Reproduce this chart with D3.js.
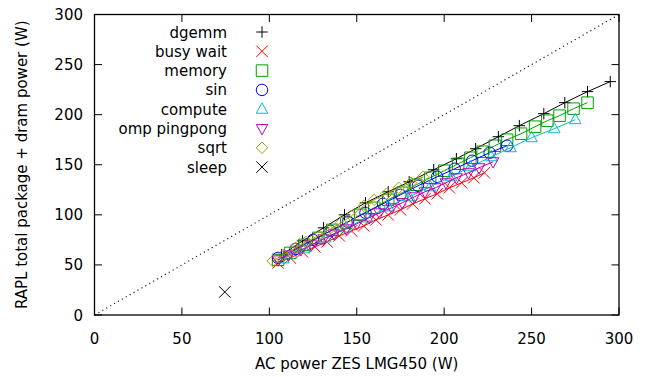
<!DOCTYPE html>
<html>
<head>
<meta charset="utf-8">
<script src="https://cdn.jsdelivr.net/npm/d3@7"></script>
<style>
  body { margin: 0; background: #fff; }
  text { font-family: "DejaVu Sans", sans-serif; }
</style>
</head>
<body>
<div id="chart"></div>
<script>
const xTicks = [0, 50, 100, 150, 200, 250, 300];
const yTicks = [0, 50, 100, 150, 200, 250, 300];

const seriesNames = ["dgemm", "busy wait", "memory", "sin", "compute", "omp pingpong", "sqrt", "sleep"];
const seriesColors = ["#000000", "#ff0000", "#00a000", "#0000ff", "#00c0c0", "#c000c0", "#a0a000", "#000000"];
const seriesShapes = ["plus", "cross", "square", "circle", "triangle", "invtriangle", "diamond", "cross"];

const dgemmX = [107, 119, 131, 143, 155, 168, 180, 194, 207, 218, 231, 243, 257, 269, 282, 295];
const dgemmY = [60, 74, 87, 100, 112, 123, 133, 145, 156, 166, 178, 189, 201, 212, 223, 233];

const busyWaitX = [105, 112, 119, 126, 133, 140, 147, 154, 161, 168, 175, 182, 189, 196, 203, 210, 217, 223];
const busyWaitY = [52, 57, 63, 68, 73, 79, 84, 89, 95, 100, 105, 111, 116, 121, 127, 132, 137, 142];

const memoryX = [105, 112, 120, 128, 136, 144, 152, 160, 168, 176, 184, 192, 200, 208, 215, 222, 229, 236, 244, 252, 259, 266, 274, 282];
const memoryY = [55, 62, 70, 77, 85, 92, 100, 107, 115, 122, 130, 137, 144, 151, 157, 163, 169, 175, 181, 188, 194, 199, 206, 212];

const sinX = [105, 115, 125, 135, 145, 155, 165, 175, 185, 196, 206, 216, 226, 236];
const sinY = [57, 66, 75, 84, 93, 102, 111, 120, 129, 138, 146, 154, 162, 169];

const computeX = [108, 120, 132, 144, 156, 168, 180, 192, 204, 215, 227, 238, 250, 263, 275];
const computeY = [56, 66, 77, 87, 97, 108, 118, 128, 138, 148, 158, 167, 177, 186, 195];

const pingpongX = [105, 111, 118, 124, 131, 137, 144, 150, 157, 163, 170, 176, 183, 189, 195, 201, 207, 214, 220, 228];
const pingpongY = [55, 60, 65, 70, 76, 81, 86, 91, 97, 102, 107, 112, 118, 123, 127, 132, 137, 142, 147, 153];

const sqrtX = [102, 108, 115, 121, 128, 134, 141, 147, 154, 160, 167, 174, 181, 188];
const sqrtY = [54, 60, 67, 73, 79, 85, 92, 99, 109, 115, 121, 127, 132, 138];

const sleepX = [74.5];
const sleepY = [23];

const seriesX = [dgemmX, busyWaitX, memoryX, sinX, computeX, pingpongX, sqrtX, sleepX];
const seriesY = [dgemmY, busyWaitY, memoryY, sinY, computeY, pingpongY, sqrtY, sleepY];

const width = 651, height = 377;
const plotL = 94.5, plotR = 619, plotT = 14.5, plotB = 315;

const svg = d3.select("#chart").append("svg")
    .attr("width", width)
    .attr("height", height);

const x = d3.scaleLinear().domain([0, 300]).range([plotL, plotR]);
const y = d3.scaleLinear().domain([0, 300]).range([plotB, plotT]);

// gnuplot style point shapes
function shape(type, s) {
    const h = s / 2;
    switch (type) {
        case "plus": return `M${-h},0H${h}M0,${-h}V${h}`;
        case "cross": return `M${-h},${-h}L${h},${h}M${-h},${h}L${h},${-h}`;
        case "square": return `M${-h},${-h}H${h}V${h}H${-h}Z`;
        case "circle": return `M${h},0A${h},${h} 0 1,1 ${-h},0A${h},${h} 0 1,1 ${h},0Z`;
        case "triangle": return `M0,${-h * 1.1}L${h},${h * 0.7}L${-h},${h * 0.7}Z`;
        case "invtriangle": return `M0,${h * 1.1}L${h},${-h * 0.7}L${-h},${-h * 0.7}Z`;
        case "diamond": return `M0,${-h}L${h},0L0,${h}L${-h},0Z`;
    }
}

// y = x reference line
svg.append("line")
    .attr("x1", x(0)).attr("y1", y(0))
    .attr("x2", x(300)).attr("y2", y(300))
    .attr("stroke", "#222")
    .attr("stroke-width", 1.2)
    .attr("stroke-dasharray", "1.2,3.3");

// ticks (mirrored, inward)
const tickLen = 7.5;
const ticks = svg.append("g").attr("stroke", "#000").attr("stroke-width", 1);
xTicks.forEach(t => {
    ticks.append("line").attr("x1", x(t)).attr("x2", x(t)).attr("y1", plotB).attr("y2", plotB - tickLen);
    ticks.append("line").attr("x1", x(t)).attr("x2", x(t)).attr("y1", plotT).attr("y2", plotT + tickLen);
});
yTicks.forEach(t => {
    ticks.append("line").attr("x1", plotL).attr("x2", plotL + tickLen).attr("y1", y(t)).attr("y2", y(t));
    ticks.append("line").attr("x1", plotR).attr("x2", plotR - tickLen).attr("y1", y(t)).attr("y2", y(t));
});

svg.selectAll(".xlab")
    .data(xTicks)
    .join("text")
    .attr("x", d => x(d))
    .attr("y", 344)
    .attr("text-anchor", "middle")
    .style("font-size", "15px")
    .text(d => d);

svg.selectAll(".ylab")
    .data(yTicks)
    .join("text")
    .attr("x", 83)
    .attr("y", d => y(d) + 5.5)
    .attr("text-anchor", "end")
    .style("font-size", "15px")
    .text(d => d);

svg.append("text")
    .attr("x", (plotL + plotR) / 2)
    .attr("y", 369)
    .attr("text-anchor", "middle")
    .style("font-size", "15px")
    .text("AC power ZES LMG450 (W)");

svg.append("text")
    .attr("transform", `translate(27, ${(plotT + plotB) / 2}) rotate(-90)`)
    .attr("text-anchor", "middle")
    .style("font-size", "15px")
    .text("RAPL total package + dram power (W)");

// series
const line = d3.line().x(d => x(d[0])).y(d => y(d[1]));
seriesNames.forEach((name, i) => {
    const pts = seriesX[i].map((v, j) => [v, seriesY[i][j]]);
    const g = svg.append("g").attr("stroke", seriesColors[i]).attr("fill", "none").attr("stroke-width", 1);
    if (pts.length > 1) g.append("path").attr("d", line(pts));
    g.selectAll("path.pt")
        .data(pts)
        .join("path")
        .attr("class", "pt")
        .attr("transform", d => `translate(${x(d[0])},${y(d[1])})`)
        .attr("d", shape(seriesShapes[i], 11.5));
});

// legend
const legend = svg.append("g");
seriesNames.forEach((name, i) => {
    const ry = 32 + i * 19.3;
    legend.append("text")
        .attr("x", 227)
        .attr("y", ry + 5.5)
        .attr("text-anchor", "end")
        .style("font-size", "15px")
        .text(name);
    legend.append("path")
        .attr("transform", `translate(262,${ry})`)
        .attr("d", shape(seriesShapes[i], 11.5))
        .attr("fill", "none")
        .attr("stroke", seriesColors[i])
        .attr("stroke-width", 1);
});

// frame
svg.append("rect")
    .attr("x", plotL).attr("y", plotT)
    .attr("width", plotR - plotL).attr("height", plotB - plotT)
    .attr("fill", "none")
    .attr("stroke", "#000")
    .attr("stroke-width", 1.3);
</script>
</body>
</html>
